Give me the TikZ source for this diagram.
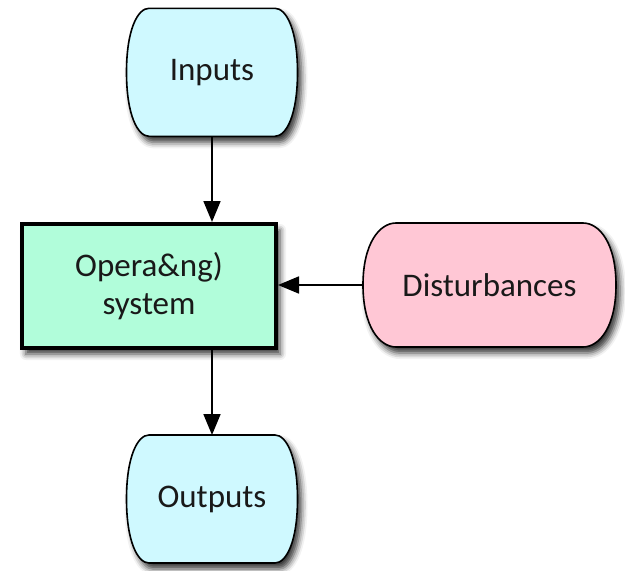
\documentclass[tikz,border=0pt]{standalone}
\usepackage{fontspec}
\setmainfont{Carlito}
\usetikzlibrary{arrows.meta,shadows.blur}

\definecolor{termfill}{HTML}{CFF9FF}
\definecolor{distfill}{HTML}{FFC7D5}
\definecolor{sysfill}{HTML}{B1FDDA}

\tikzset{
  softshadow/.style={blur shadow={shadow xshift=4pt, shadow yshift=-6pt,
      shadow blur radius=6pt, shadow opacity=80}},
  capsuleline/.style={draw=black, line width=1.6pt, softshadow},
  txt/.style={font=\fontsize{33}{38}\selectfont, inner sep=0pt, outer sep=0pt,
      align=center, text=black!90},
  flow/.style={draw=black, line width=1.8pt, -{Triangle[length=21pt,width=17pt]}},
}

% Terminal shape: flat top and bottom, sides bulging out with rounded corners.
% #1 fill, #2 cx, #3 cy, #4 half width, #5 half height, #6 flat half width
\newcommand{\capsulepath}[6]{%
  \pgfmathsetmacro\capL{#2-#6}%
  \pgfmathsetmacro\capR{#2+#6}%
  \pgfmathsetmacro\capXL{#2-#4}%
  \pgfmathsetmacro\capXR{#2+#4}%
  \pgfmathsetmacro\capAL{#2-#6-0.5*(#4-#6)}%
  \pgfmathsetmacro\capAR{#2+#6+0.5*(#4-#6)}%
  \pgfmathsetmacro\capT{#3-#5}%
  \pgfmathsetmacro\capB{#3+#5}%
  \pgfmathsetmacro\capTT{#3-#5+0.33*#5}%
  \pgfmathsetmacro\capBB{#3+#5-0.33*#5}%
  \path[capsuleline, fill=#1]
    (\capL,\capT) -- (\capR,\capT)
    .. controls (\capAR,\capT) and (\capXR,\capTT) .. (\capXR,#3)
    .. controls (\capXR,\capBB) and (\capAR,\capB) .. (\capR,\capB)
    -- (\capL,\capB)
    .. controls (\capAL,\capB) and (\capXL,\capBB) .. (\capXL,#3)
    .. controls (\capXL,\capTT) and (\capAL,\capT) .. (\capL,\capT) -- cycle;
}

\begin{document}
\begin{tikzpicture}[x=1pt, y=-1pt]
  \useasboundingbox (0,0) rectangle (625,571);

  % shapes
  \capsulepath{termfill}{212}{72.3}{85.5}{64}{63}
  \capsulepath{termfill}{212}{499}{85.5}{64}{63}
  \capsulepath{distfill}{489.5}{285}{126.5}{62}{93.5}

  % nodes carrying the texts and anchors
  \node[txt, minimum width=171pt, minimum height=128pt] (inputs) at (212,72.3) {Inputs};
  \node[txt, minimum width=171pt, minimum height=128pt] (outputs) at (212,499) {Outputs};
  \node[txt, minimum width=253pt, minimum height=124pt] (dist) at (489.5,285) {Disturbances};
  \node[txt, draw=black, line width=4pt, fill=sysfill, softshadow,
        minimum width=254pt, minimum height=124pt, outer sep=2pt] (sys) at (149,286)
        {Opera\&ng)\\system};

  % connectors
  \coordinate (sysin) at (212,222);
  \coordinate (sysout) at (212,350);
  \draw[flow] (inputs.south) -- (sysin);
  \draw[flow] (sysout) -- (outputs.north);
  \draw[flow] (dist.west) -- (sys.east |- dist.west);
\end{tikzpicture}
\end{document}
